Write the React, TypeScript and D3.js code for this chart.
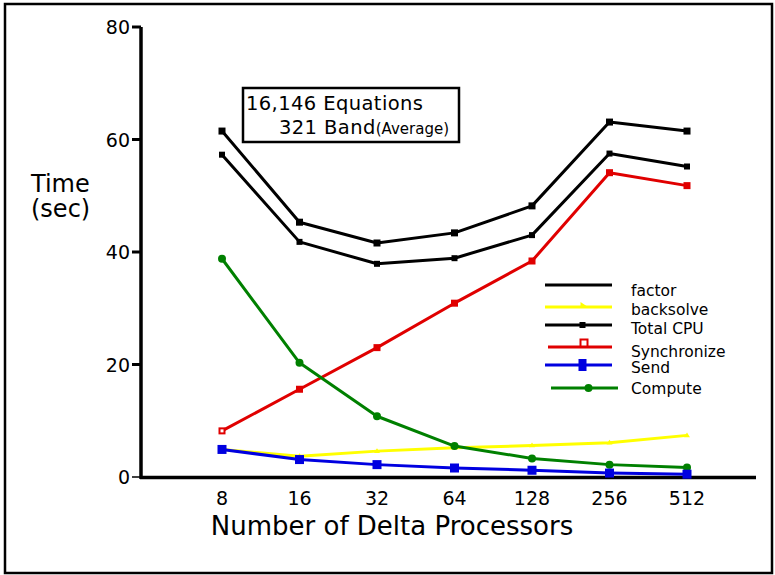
import React from "react";
import * as d3 from "d3";

const categories = ["8", "16", "32", "64", "128", "256", "512"];
const totalCPU = [61.5, 45.3, 41.6, 43.4, 48.2, 63.1, 61.5];
const factor = [57.3, 41.8, 37.9, 38.9, 43.0, 57.5, 55.2];
const synchronize = [8.2, 15.6, 23.0, 30.9, 38.4, 54.1, 51.8];
const compute = [38.8, 20.3, 10.8, 5.5, 3.3, 2.2, 1.7];
const backsolve = [4.9, 3.7, 4.6, 5.2, 5.6, 6.1, 7.4];
const send = [4.9, 3.1, 2.2, 1.6, 1.2, 0.7, 0.5];
const yTicks = [0, 20, 40, 60, 80];

const W = 775;
const H = 575;
const font = "DejaVu Sans, sans-serif";

export default function App() {
  const x = d3.scalePoint<string>().domain(categories).range([222, 687]);
  const y = d3.scaleLinear().domain([0, 80]).range([477, 27]);
  const line = d3
    .line<number>()
    .x((_, i) => x(categories[i]) as number)
    .y((d) => y(d));

  const series = [
    { name: "factor", data: factor, color: "#000", marker: "sq", size: 6 },
    { name: "Total CPU", data: totalCPU, color: "#000", marker: "sq", size: 7 },
    { name: "Synchronize", data: synchronize, color: "#e00000", marker: "sq", size: 7 },
    { name: "backsolve", data: backsolve, color: "#ffff00", marker: "tri", size: 6 },
    { name: "Compute", data: compute, color: "#008000", marker: "circ", size: 8 },
    { name: "Send", data: send, color: "#0000e0", marker: "sq", size: 9 },
  ];

  const legend = [
    { name: "factor", color: "#000", x1: 545, x2: 612, ly: 285, ty: 296, mk: null },
    { name: "backsolve", color: "#ffff00", x1: 545, x2: 612, ly: 307, ty: 315, mk: "tri" },
    { name: "Total CPU", color: "#000", x1: 545, x2: 612, ly: 325, ty: 334, mk: "sq" },
    { name: "Synchronize", color: "#e00000", x1: 548, x2: 612, ly: 347, ty: 357, mk: "hsq" },
    { name: "Send", color: "#0000e0", x1: 545, x2: 612, ly: 365, ty: 373, mk: "bsq" },
    { name: "Compute", color: "#008000", x1: 551, x2: 618, ly: 388, ty: 394, mk: "circ" },
  ];

  const marker = (m: string, cx: number, cy: number, color: string, size: number, key: string, hollow = false) => {
    if (m === "sq") {
      return hollow ? (
        <rect key={key} x={cx - size / 2 + 1} y={cy - size / 2 + 1} width={size - 2} height={size - 2} fill="#fff" stroke={color} strokeWidth={2} />
      ) : (
        <rect key={key} x={cx - size / 2} y={cy - size / 2} width={size} height={size} fill={color} />
      );
    }
    if (m === "circ") return <circle key={key} cx={cx} cy={cy} r={size / 2} fill={color} />;
    const s = size / 2;
    return <path key={key} d={`M${cx - s},${cy + s * 0.6}L${cx},${cy - s}L${cx + s},${cy + s * 0.6}Z`} fill={color} />;
  };

  return (
    <svg width={W} height={H} style={{ position: "absolute", left: 0, top: 0 }}>
      <rect x={0} y={0} width={W} height={H} fill="#fff" />
      <rect x={5} y={4} width={767} height={569} fill="none" stroke="#000" strokeWidth={2.5} />

      {/* axes */}
      <line x1={141} y1={27} x2={141} y2={479} stroke="#000" strokeWidth={3.5} />
      <line x1={140} y1={477.5} x2={756} y2={477.5} stroke="#000" strokeWidth={3.5} />
      {yTicks.map((t) => (
        <g key={t}>
          <line x1={132} x2={141} y1={y(t)} y2={y(t)} stroke="#000" strokeWidth={t === 0 ? 1.5 : 3} />
          <text x={130} y={y(t) + 7} textAnchor="end" fontFamily={font} fontSize={19} fill="#000">
            {t}
          </text>
        </g>
      ))}
      {categories.map((c) => (
        <text key={c} x={x(c)} y={505} textAnchor="middle" fontFamily={font} fontSize={19} fill="#000">
          {c}
        </text>
      ))}
      <text x={392} y={535} textAnchor="middle" fontFamily={font} fontSize={26} fill="#000">
        Number of Delta Processors
      </text>
      <text x={31} y={192} fontFamily={font} fontSize={24} fill="#000">Time</text>
      <text x={31} y={217} fontFamily={font} fontSize={24} fill="#000">(sec)</text>

      {/* annotation */}
      <rect x={243} y={88} width={216} height={54} fill="#fff" stroke="#000" strokeWidth={2.5} />
      <text x={246} y={110} fontFamily={font} fontSize={19.5} letterSpacing={0.4} fill="#000">16,146 Equations</text>
      <text x={279} y={134} fontFamily={font} fontSize={19.5} letterSpacing={0.4} fill="#000">
        321 Band<tspan fontSize={15} letterSpacing={0}>(Average)</tspan>
      </text>

      {/* series */}
      {series.map((s) => (
        <g key={s.name}>
          <path d={line(s.data) as string} fill="none" stroke={s.color} strokeWidth={3} strokeLinejoin="round" />
          {s.data.map((v, i) =>
            marker(s.marker, x(categories[i]) as number, y(v), s.color, s.size, s.name + i, s.name === "Synchronize" && i === 0)
          )}
        </g>
      ))}

      {/* legend */}
      {legend.map((l) => {
        const cx = (l.x1 + l.x2) / 2 + 4;
        return (
          <g key={l.name}>
            <line x1={l.x1} x2={l.x2} y1={l.ly} y2={l.ly} stroke={l.color} strokeWidth={3} />
            {l.mk === "tri" && <path d={`M${cx - 2},${l.ly - 5}L${cx + 4},${l.ly - 1}L${cx - 2},${l.ly - 1}Z`} fill={l.color} />}
            {l.mk === "sq" && <rect x={cx - 3} y={l.ly - 3} width={6} height={6} fill={l.color} />}
            {l.mk === "hsq" && <rect x={cx - 3.5} y={l.ly - 7.5} width={7} height={7} fill="#fff" stroke={l.color} strokeWidth={2} />}
            {l.mk === "bsq" && <rect x={cx - 4} y={l.ly - 6} width={8} height={12} fill={l.color} />}
            {l.mk === "circ" && <circle cx={cx} cy={l.ly} r={4} fill={l.color} />}
            <text x={631} y={l.ty} fontFamily={font} fontSize={15.5} fill="#000">
              {l.name}
            </text>
          </g>
        );
      })}
    </svg>
  );
}
